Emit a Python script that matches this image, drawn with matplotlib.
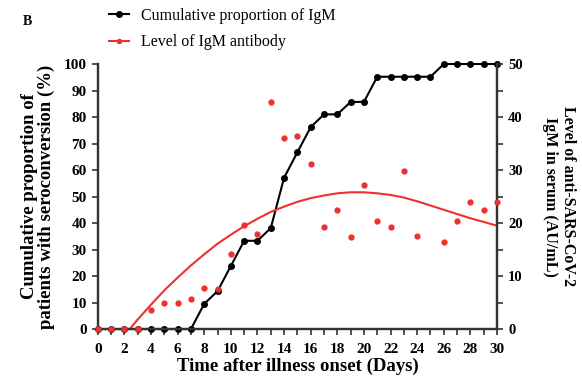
import numpy as np
import matplotlib.pyplot as plt
from matplotlib.ticker import MultipleLocator

plt.rcParams['font.family'] = ['Liberation Serif', 'DejaVu Serif']

# cumulative proportion of patients with IgM seroconversion (%)
days = np.arange(0, 31)
cum_prop = [0, 0, 0, 0, 0, 0, 0, 0, 9.5, 14.3, 23.8, 33.3, 33.3, 38.1, 57.1, 66.7,
            76.2, 81.0, 81.0, 85.7, 85.7, 95.2, 95.2, 95.2, 95.2, 95.2, 100, 100, 100, 100, 100]

# IgM level (AU/mL), day 25 missing
igm_days = [0, 1, 2, 3, 4, 5, 6, 7, 8, 9, 10, 11, 12, 13, 14, 15, 16, 17, 18, 19, 20,
            21, 22, 23, 24, 26, 27, 28, 29, 30]
igm_level = [0, 0, 0, 0, 3.6, 4.9, 4.9, 5.7, 7.7, 7.6, 14.2, 19.7, 18.0, 42.9, 36.0, 36.5,
             31.1, 19.2, 22.5, 17.4, 27.2, 20.4, 19.2, 29.9, 17.6, 16.5, 20.3, 24.0, 22.5, 23.9]

# fitted curve
fit_days = [2.4, 3, 4, 5, 6, 7, 8, 9, 10, 11, 12, 13, 14, 15, 16, 17, 18, 19, 20,
            21, 22, 23, 24, 25, 26, 27, 28, 29, 30]
fit_level = [0, 1.8, 4.6, 7.3, 9.7, 12.0, 14.1, 16.1, 17.8, 19.4, 20.8, 22.1, 23.1, 24.0,
             24.7, 25.2, 25.6, 25.8, 25.8, 25.6, 25.3, 24.8, 24.1, 23.3, 22.5, 21.7, 20.9,
             20.2, 19.5]

fig = plt.figure(figsize=(5.82, 3.88), dpi=100)
ax = fig.add_axes([0.168, 0.152, 0.686, 0.683])
ax2 = ax.twinx()

ax.plot(days, cum_prop, '-o', color='black', lw=1.5, ms=4, clip_on=False, zorder=3)
ax2.plot(fit_days, fit_level, '-', color='#f03030', lw=1.5, clip_on=False)
ax2.plot(igm_days, igm_level, 'o', color='#f03030', ms=3.5, ls='none', clip_on=False, zorder=4)

ax.set_xlim(0, 30)
ax.set_ylim(0, 100)
ax2.set_ylim(0, 50)
ax.xaxis.set_major_locator(MultipleLocator(2))
ax.xaxis.set_minor_locator(MultipleLocator(1))
ax.yaxis.set_major_locator(MultipleLocator(10))
ax2.yaxis.set_major_locator(MultipleLocator(10))
ax2.yaxis.set_minor_locator(MultipleLocator(5))

for a in (ax, ax2):
    a.spines['top'].set_visible(False)
    for s in ('left', 'right', 'bottom'):
        a.spines[s].set_linewidth(1.6)
        a.spines[s].set_color('#333333')
    a.tick_params(which='both', width=1.2, color='#333333', length=4)
ax.tick_params(axis='x', labelsize=11, pad=6)
ax.tick_params(axis='y', labelsize=11, pad=4)
ax2.tick_params(axis='y', labelsize=10.5, pad=4)
for lab in ax.get_xticklabels() + ax.get_yticklabels() + ax2.get_yticklabels():
    lab.set_fontweight('bold')

ax.set_xlabel('Time after illness onset (Days)', fontsize=13.5, fontweight='bold', labelpad=1)
ax.set_ylabel('Cumulative proportion of\npatients with seroconversion (%)', fontsize=13.5,
              fontweight='bold', labelpad=6, linespacing=1.0)
ax2.set_ylabel('Level of anti-SARS-CoV-2\nIgM in serum (AU/mL)', fontsize=11.5,
               fontweight='bold', rotation=270, labelpad=38, linespacing=1.1)

h1, = ax.plot([], [], '-o', color='black', lw=1.5, ms=4)
h2, = ax.plot([], [], '-o', color='#f03030', lw=1.5, ms=3)
fig.legend([h1, h2], ['Cumulative proportion of IgM', 'Level of IgM antibody'],
           loc='upper left', bbox_to_anchor=(0.162, 1.017), frameon=False, fontsize=11.5,
           handlelength=1.3, handletextpad=0.75, labelspacing=0.65)
fig.text(0.04, 0.935, 'B', fontsize=10, fontweight='bold')

fig.savefig('out.png', dpi=100)
